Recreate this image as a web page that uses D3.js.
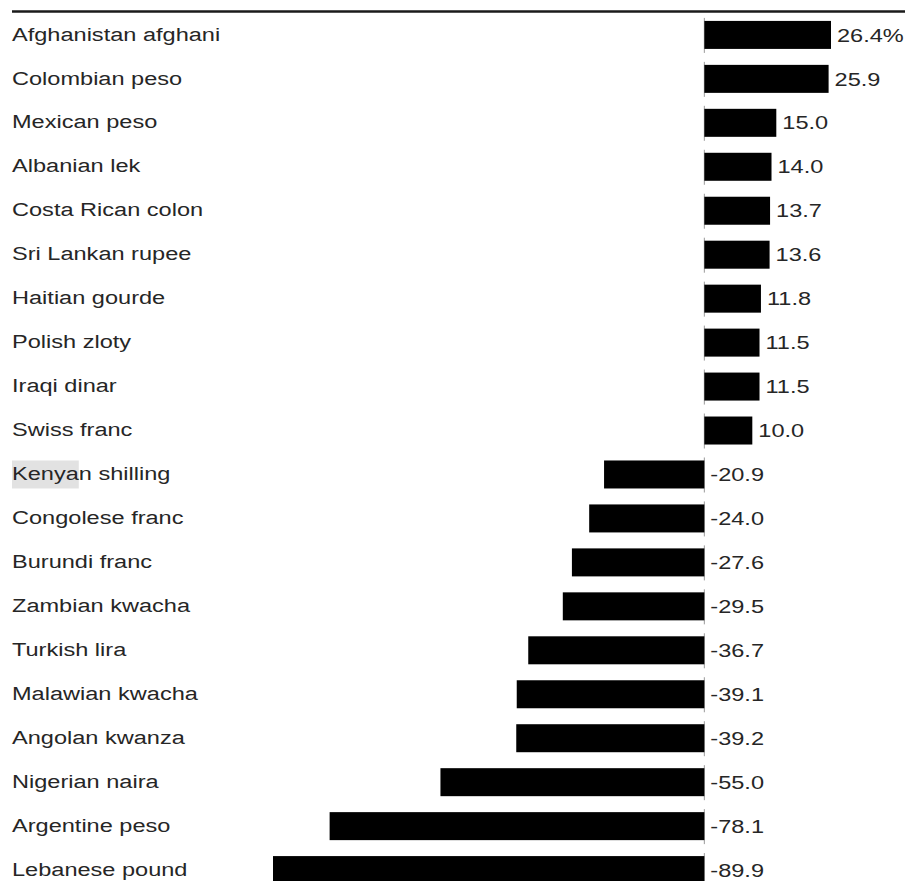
<!DOCTYPE html>
<html>
<head>
<meta charset="utf-8">
<script src="https://cdn.jsdelivr.net/npm/d3@7"></script>
<style>
  html, body { margin: 0; padding: 0; background: #fff; }
  svg { display: block; }
  text { font-family: "Liberation Sans", Arial, Helvetica, sans-serif; fill: #262626; }
</style>
</head>
<body>
<svg id="chart" width="905" height="881"></svg>
<script>
// Currency changes vs. the US dollar, percent
const currencies = [
  "Afghanistan afghani", "Colombian peso", "Mexican peso", "Albanian lek",
  "Costa Rican colon", "Sri Lankan rupee", "Haitian gourde", "Polish zloty",
  "Iraqi dinar", "Swiss franc", "Kenyan shilling", "Congolese franc",
  "Burundi franc", "Zambian kwacha", "Turkish lira", "Malawian kwacha",
  "Angolan kwanza", "Nigerian naira", "Argentine peso", "Lebanese pound"
];
const changes = [
  26.4, 25.9, 15.0, 14.0, 13.7, 13.6, 11.8, 11.5, 11.5, 10.0,
  -20.9, -24.0, -27.6, -29.5, -36.7, -39.1, -39.2, -55.0, -78.1, -89.9
];
const highlightTerm = "Kenya";

const svg = d3.select("#chart");
const fontSize = 19;
const stretch = 1.24;

const x = d3.scaleLinear()
  .domain([d3.min(changes), d3.max(changes)])
  .range([273, 831]);

const y = d3.scaleBand()
  .domain(currencies)
  .range([13, 892])
  .paddingInner(0.363)
  .paddingOuter(0.18);

const rows = currencies.map((name, i) => ({ name, value: changes[i] }));

// plain hyphen for negatives
const fmt = d3.formatLocale({
  decimal: ".", thousands: ",", grouping: [3], currency: ["", ""], minus: "-"
}).format(".1f");

// top rule
svg.append("line")
  .attr("x1", 12).attr("x2", 905)
  .attr("y1", 11.5).attr("y2", 11.5)
  .attr("stroke", "#1a1a1a")
  .attr("stroke-width", 2.5);

const row = svg.append("g").selectAll("g")
  .data(rows)
  .join("g");

// zero baseline segment for each row
row.append("line")
  .attr("x1", x(0)).attr("x2", x(0))
  .attr("y1", d => y(d.name) - 3)
  .attr("y2", d => y(d.name) + y.bandwidth() + 4)
  .attr("stroke", "#999")
  .attr("stroke-width", 1);

// bars
row.append("rect")
  .attr("x", d => x(Math.min(0, d.value)))
  .attr("y", d => y(d.name))
  .attr("width", d => Math.abs(x(d.value) - x(0)))
  .attr("height", y.bandwidth())
  .attr("fill", "#000");

// category labels
const labels = row.append("text")
  .attr("transform", d => `translate(12,${y(d.name) + y.bandwidth() / 2 - 1}) scale(${stretch},1)`)
  .attr("dy", "0.35em")
  .attr("font-size", fontSize)
  .text(d => d.name);

// highlighted search term behind the matching label
labels.each(function(d) {
  const idx = d.name.indexOf(highlightTerm);
  if (idx < 0) return;
  const start = idx > 0 ? this.getSubStringLength(0, idx) : 0;
  const len = this.getSubStringLength(idx, highlightTerm.length);
  d3.select(this.parentNode).insert("rect", "text")
    .attr("x", 12 + start * stretch)
    .attr("y", y(d.name))
    .attr("width", len * stretch)
    .attr("height", y.bandwidth())
    .attr("fill", "#e2e2e2");
});

// value labels
row.append("text")
  .attr("transform", d => `translate(${Math.max(x(d.value), x(0)) + 6},${y(d.name) + y.bandwidth() / 2}) scale(${stretch},1)`)
  .attr("dy", "0.35em")
  .attr("font-size", fontSize)
  .text((d, i) => fmt(d.value) + (i === 0 ? "%" : ""));
</script>
</body>
</html>
